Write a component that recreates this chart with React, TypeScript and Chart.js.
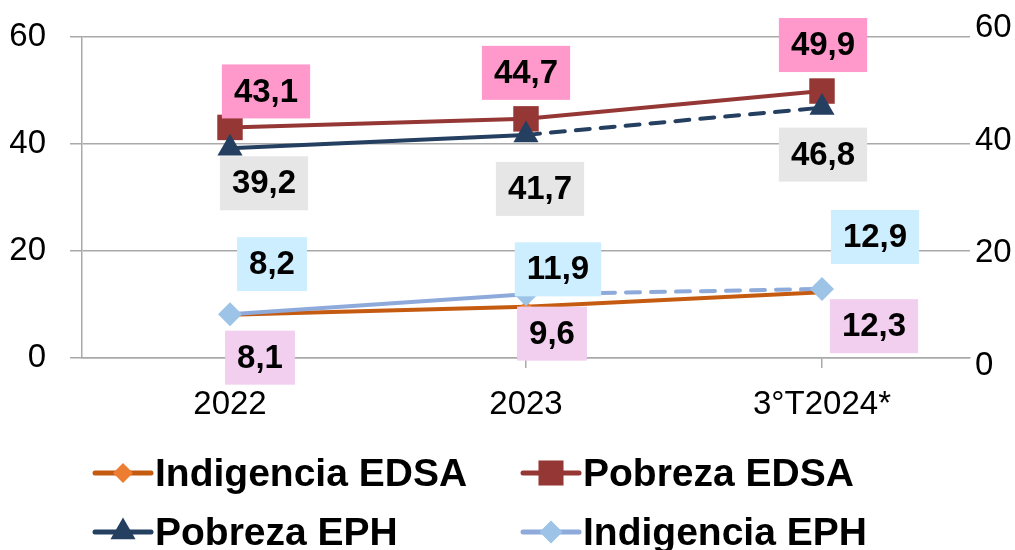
import React, { useEffect, useRef } from 'react';
import { Chart, registerables } from 'chart.js';
import { drawPoint } from 'chart.js/helpers';

Chart.register(...registerables);

// ---- data ----
const categories = ['2022', '2023', '3°T2024*'];
const indigenciaEDSA = [8.1, 9.6, 12.3];
const pobrezaEDSA = [43.1, 44.7, 49.9];
const pobrezaEPH = [39.2, 41.7, 46.8];
const indigenciaEPH = [8.2, 11.9, 12.9];
const seriesNames = ['Indigencia EDSA', 'Pobreza EDSA', 'Pobreza EPH', 'Indigencia EPH'];
const yMin = 0;
const yMax = 60;
const yStep = 20;

// ---- styles ----
const lineColors = ['#C55A11', '#953735', '#243F60', '#8EAADB'];
const markerColors = ['#ED7D31', '#953735', '#243F60', '#9DC3E6'];
const markerStyles = ['rectRot', 'rect', 'triangle', 'rectRot'];
const markerRadius = [6, 18, 14.5, 12];
const legendMarkerRadius = [10, 17.7, 14.5, 11.5];
const labelBg = ['#F2CEEF', '#FF99CC', '#E7E6E6', '#CCEEFF'];
// label box centre offsets (px) from each point, per series / per point
const labelOffsets = [
  [[30, 43], [26, 27], [52, 34]],
  [[36, -36], [0, -46], [1, -46]],
  [[34, 35], [14, 54], [1, 47]],
  [[42, -50], [32, -25], [53, -52]],
];
const dashedFrom = [false, false, true, true];
const legendPos = [[95, 473], [523, 473], [95, 532], [523, 532]];
// right-axis labels in the original are spread slightly wider than the plot area
const rightAxisStretch = { top: 9, bottom: 8 };

const GRID = '#A9A9A9';
const FONT = '"Liberation Sans", Arial, sans-serif';

const fmt = (v: number) => v.toFixed(1).replace('.', ',');

const dataLabelPlugin = {
  id: 'boxLabels',
  afterDatasetsDraw(chart: any) {
    const ctx = chart.ctx;
    ctx.save();
    ctx.font = `bold 33px ${FONT}`;
    ctx.textAlign = 'center';
    ctx.textBaseline = 'middle';
    chart.data.datasets.forEach((ds: any, i: number) => {
      const meta = chart.getDatasetMeta(i);
      meta.data.forEach((pt: any, j: number) => {
        const txt = fmt(ds.data[j]);
        const [dx, dy] = labelOffsets[i][j];
        const cx = pt.x + dx;
        const cy = pt.y + dy;
        const w = ctx.measureText(txt).width + 24;
        const h = 54;
        ctx.fillStyle = labelBg[i];
        ctx.fillRect(cx - w / 2, cy - h / 2, w, h);
        ctx.fillStyle = '#000';
        ctx.fillText(txt, cx, cy + 1);
      });
    });
    ctx.restore();
  },
};

const rightAxisPlugin = {
  id: 'rightAxisLabels',
  afterDraw(chart: any) {
    const ctx = chart.ctx;
    const s = chart.scales.y2;
    const a = chart.chartArea;
    const top = a.top - rightAxisStretch.top;
    const h = a.bottom - a.top + rightAxisStretch.top + rightAxisStretch.bottom;
    ctx.save();
    ctx.font = `33px ${FONT}`;
    ctx.fillStyle = '#000';
    ctx.textAlign = 'left';
    ctx.textBaseline = 'middle';
    s.ticks.forEach((t: any) => {
      const frac = (s.getPixelForValue(t.value) - a.top) / (a.bottom - a.top);
      ctx.fillText(String(t.value), a.right + 5, top + frac * h);
    });
    ctx.restore();
  },
};

const legendPlugin = {
  id: 'customLegend',
  afterDraw(chart: any) {
    const ctx = chart.ctx;
    chart.data.datasets.forEach((ds: any, i: number) => {
      const [x, y] = legendPos[i];
      ctx.save();
      ctx.strokeStyle = lineColors[i];
      ctx.lineWidth = 5;
      ctx.lineCap = 'round';
      ctx.beginPath();
      ctx.moveTo(x, y);
      ctx.lineTo(x + 56, y);
      ctx.stroke();
      ctx.fillStyle = markerColors[i];
      drawPoint(ctx, { pointStyle: markerStyles[i], radius: legendMarkerRadius[i], rotation: 0, borderWidth: 0 } as any, x + 28, y);
      ctx.fillStyle = '#000';
      ctx.font = `bold 39px ${FONT}`;
      ctx.textAlign = 'left';
      ctx.textBaseline = 'alphabetic';
      ctx.fillText(ds.label, x + 60, y + 13);
      ctx.restore();
    });
  },
};

const fitVertical = (w: number) => (s: any) => {
  s.width = w;
  s.paddingTop = 0;
  s.paddingBottom = 0;
};

export default function App() {
  const ref = useRef<HTMLCanvasElement>(null);
  useEffect(() => {
    if (!ref.current) return;
    const series = [indigenciaEDSA, pobrezaEDSA, pobrezaEPH, indigenciaEPH];
    const chart = new Chart(ref.current, {
      type: 'line',
      data: {
        labels: categories,
        datasets: series.map((d, i) => ({
          label: seriesNames[i],
          data: d,
          borderColor: lineColors[i],
          backgroundColor: markerColors[i],
          pointBackgroundColor: markerColors[i],
          pointBorderWidth: 0,
          pointBorderColor: markerColors[i],
          pointStyle: markerStyles[i] as any,
          pointRadius: markerRadius[i],
          borderWidth: 4,
          borderCapStyle: 'round',
          tension: 0,
          fill: false,
          order: 4 - i,
          segment: {
            borderDash: (c: any) => (dashedFrom[i] && c.p0DataIndex === 1 ? [14, 11] : undefined),
          },
        })),
      },
      options: {
        animation: false,
        responsive: false,
        devicePixelRatio: 1,
        layout: { padding: { top: 37, bottom: 122, left: 0, right: 0 } },
        plugins: { legend: { display: false }, tooltip: { enabled: false } },
        scales: {
          x: {
            offset: true,
            grid: { drawOnChartArea: false, drawTicks: true, tickLength: 10, color: GRID, lineWidth: 1.5 },
            border: { display: true, color: GRID, width: 1.5 },
            ticks: { color: '#000', font: { family: FONT, size: 33 }, padding: 17 },
            afterFit: (s: any) => { s.height = 70; s.paddingLeft = 0; s.paddingRight = 0; },
          },
          y: {
            position: 'left',
            min: yMin,
            max: yMax,
            grid: { color: GRID, lineWidth: 1.5, tickLength: 12 },
            border: { display: true, color: GRID, width: 1.5 },
            ticks: { stepSize: yStep, color: '#000', font: { family: FONT, size: 33 }, padding: 24 },
            afterFit: fitVertical(82),
          },
          y2: {
            position: 'right',
            min: yMin,
            max: yMax,
            grid: { display: false, drawTicks: false },
            border: { display: false },
            ticks: { stepSize: yStep, display: false },
            afterFit: fitVertical(45),
          },
        },
      },
      plugins: [dataLabelPlugin, rightAxisPlugin, legendPlugin],
    });
    return () => chart.destroy();
  }, []);
  return (
    <div style={{ position: 'fixed', left: 0, top: 0, width: 1015, height: 550, background: '#fff' }}>
      <canvas ref={ref} width={1015} height={550} style={{ display: 'block' }} />
    </div>
  );
}
